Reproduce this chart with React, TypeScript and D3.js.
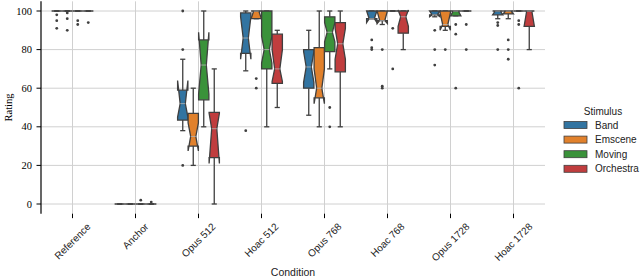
import { useEffect, useRef } from "react";
import * as d3 from "d3";

const categories = [
  "Reference",
  "Anchor",
  "Opus 512",
  "Hoac 512",
  "Opus 768",
  "Hoac 768",
  "Opus 1728",
  "Hoac 1728",
];
const stimuli = ["Band", "Emscene", "Moving", "Orchestra"];
const colors = ["#3274a1", "#e1812c", "#3a923a", "#c03d3e"];
const yTicks = [0, 20, 40, 60, 80, 100];

// per condition, per stimulus (Band, Emscene, Moving, Orchestra)
const whiskerLow = [
  [100, 100, 100, 100],
  [0, 0, 0, 0],
  [38, 20, 40, 0],
  [69, 96, 40, 50],
  [46, 40, 70, 40],
  [96, 93, 100, 80],
  [97, 90, 97.5, 100],
  [96, 96, 100, 80],
];
const q1 = [
  [100, 100, 100, 100],
  [0, 0, 0, 0],
  [43.5, 30, 54, 24],
  [78, 96, 70, 62.5],
  [60, 55, 79, 68.5],
  [96, 95, 100, 88.5],
  [98, 92, 97.5, 100],
  [98, 98.5, 100, 92],
];
const median = [
  [100, 100, 100, 100],
  [0, 0, 0, 0],
  [52, 35, 72, 39],
  [86, 100, 80, 70],
  [71, 60, 89, 83],
  [96, 95, 100, 97],
  [98, 93, 100, 100],
  [100, 100, 100, 100],
];
const q3 = [
  [100, 100, 100, 100],
  [0, 0, 0, 0],
  [59, 47, 85, 47.5],
  [99, 100, 100, 88],
  [80, 81, 97, 94],
  [100, 100, 100, 100],
  [100, 100, 100, 100],
  [100, 100, 100, 100],
];
const whiskerHigh = [
  [100, 100, 100, 100],
  [0, 0, 0, 0],
  [75, 60, 100, 70],
  [100, 100, 100, 90],
  [90, 100, 100, 100],
  [100, 100, 100, 100],
  [100, 100, 100, 100],
  [100, 100, 100, 100],
];
const notchLow = [
  [100, 100, 100, 100],
  [0, 0, 0, 0],
  [45, 27.5, 57, 21],
  [75, 96, 73, 63.5],
  [63, 52, 84, 75],
  [94, 93.5, 100, 92],
  [97, 90, 97.5, 100],
  [98, 98.5, 100, 92],
];
const notchHigh = [
  [100, 100, 100, 100],
  [0, 0, 0, 0],
  [64, 42, 89, 47],
  [97, 100, 87, 80],
  [79, 70, 94, 91],
  [100, 100, 100, 100.5],
  [100, 99, 100, 100],
  [100, 100, 100, 100],
];
const outliers = [
  [[98, 95, 91], [99, 96, 90], [95, 93], [94]],
  [[], [], [2], [1]],
  [[100, 80, 20], [], [], []],
  [[38], [65, 60], [], []],
  [[], [], [50, 40], []],
  [[85, 81, 80], [80, 61, 60], [91, 70], []],
  [[90, 80, 72], [80], [93, 88, 60], [93, 80]],
  [[94, 92.5, 80], [85, 80, 75], [95, 93, 60], []],
];

const W = 640;
const H = 279;
const line = "#3f3f3f";
const sans = "'Liberation Sans', Arial, sans-serif";
const serif = "'Liberation Serif', 'Times New Roman', serif";

export default function App() {
  const svgRef = useRef<SVGSVGElement>(null);

  useEffect(() => {
    document.body.style.margin = "0";
    if (!svgRef.current) return;
    const svg = d3.select(svgRef.current);
    svg.selectAll("*").remove();

    const x = d3.scaleBand<string>().domain(categories).range([41, 545]);
    const hueX = d3.scaleBand<string>().domain(stimuli).range([-21, 21]);
    const y = d3.scaleLinear().domain([0, 100]).range([204, 11]);
    const top = y(105);
    const bottom = y(-5);
    const cx = (c: string) => (x(c) ?? 0) + x.bandwidth() / 2;
    const boxW = hueX.bandwidth() * 0.98;

    // grid
    const grid = svg.append("g").attr("stroke", "#d0d0d0").attr("stroke-width", 1);
    grid
      .selectAll("line.h")
      .data(yTicks)
      .enter()
      .append("line")
      .attr("x1", 41)
      .attr("x2", 545)
      .attr("y1", (d) => y(d))
      .attr("y2", (d) => y(d));
    grid
      .selectAll("line.v")
      .data(categories)
      .enter()
      .append("line")
      .attr("x1", (d) => cx(d))
      .attr("x2", (d) => cx(d))
      .attr("y1", top)
      .attr("y2", bottom);

    // boxes
    const boxes = svg.append("g");
    categories.forEach((cat, i) => {
      stimuli.forEach((stim, j) => {
        const c = cx(cat) + (hueX(stim) ?? 0) + hueX.bandwidth() / 2;
        const L = c - boxW / 2;
        const R = c + boxW / 2;
        const cl = c - boxW / 4;
        const cr = c + boxW / 4;
        const g = boxes.append("g");

        // whiskers
        const wl = [
          [q1[i][j], whiskerLow[i][j]],
          [q3[i][j], whiskerHigh[i][j]],
        ];
        wl.forEach(([a, b]) => {
          g.append("line")
            .attr("x1", c)
            .attr("x2", c)
            .attr("y1", y(a))
            .attr("y2", y(b))
            .attr("stroke", line)
            .attr("stroke-width", 1.3);
          g.append("line")
            .attr("x1", cl)
            .attr("x2", cr)
            .attr("y1", y(b))
            .attr("y2", y(b))
            .attr("stroke", line)
            .attr("stroke-width", 1.3);
        });

        const xs = [L, R, R, cr, R, R, L, L, cl, L, L];
        const ys = [
          q1[i][j], q1[i][j], notchLow[i][j], median[i][j], notchHigh[i][j],
          q3[i][j], q3[i][j], notchHigh[i][j], median[i][j], notchLow[i][j], q1[i][j],
        ];
        const pts = xs.map((px, k) => [px, y(ys[k])] as [number, number]);
        g.append("path")
          .attr("d", d3.line()(pts) + "Z")
          .attr("fill", colors[j])
          .attr("stroke", line)
          .attr("stroke-width", 1.3)
          .attr("stroke-linejoin", "miter");

        if (q3[i][j] > q1[i][j]) {
          g.append("line")
            .attr("x1", cl)
            .attr("x2", cr)
            .attr("y1", y(median[i][j]))
            .attr("y2", y(median[i][j]))
            .attr("stroke", "#b5b5b5")
            .attr("stroke-width", 0.8);
        }

        g.selectAll("circle")
          .data(outliers[i][j])
          .enter()
          .append("circle")
          .attr("cx", c)
          .attr("cy", (d) => y(d))
          .attr("r", 1.4)
          .attr("fill", line);
      });
    });

    // left spine + y ticks
    svg
      .append("line")
      .attr("x1", 41)
      .attr("x2", 41)
      .attr("y1", top)
      .attr("y2", bottom)
      .attr("stroke", "#000")
      .attr("stroke-width", 1.2);
    const yAxis = svg.append("g");
    yTicks.forEach((t) => {
      yAxis
        .append("line")
        .attr("x1", 36.5)
        .attr("x2", 41)
        .attr("y1", y(t))
        .attr("y2", y(t))
        .attr("stroke", "#000");
      yAxis
        .append("text")
        .attr("x", 32)
        .attr("y", y(t))
        .attr("dy", "0.35em")
        .attr("text-anchor", "end")
        .attr("font-family", serif)
        .attr("font-size", 10.5)
        .attr("fill", "#000")
        .text(t);
    });
    svg
      .append("text")
      .attr("transform", `translate(12,${(top + bottom) / 2}) rotate(-90)`)
      .attr("text-anchor", "middle")
      .attr("font-family", serif)
      .attr("font-size", 10.5)
      .text("Rating");

    // x ticks + rotated labels
    const xAxis = svg.append("g");
    categories.forEach((cat) => {
      const px = cx(cat);
      xAxis
        .append("line")
        .attr("x1", px)
        .attr("x2", px)
        .attr("y1", bottom)
        .attr("y2", bottom + 4.5)
        .attr("stroke", "#000");
      const t = xAxis
        .append("text")
        .attr("font-family", sans)
        .attr("font-size", 10)
        .attr("fill", "#222")
        .attr("text-anchor", "middle")
        .attr("dominant-baseline", "central")
        .text(cat);
      const len = (t.node() as SVGTextElement).getComputedTextLength();
      const half = ((len + 9) * Math.SQRT1_2) / 2;
      t.attr("transform", `translate(${px},${bottom + 8 + half}) rotate(-45)`);
    });
    svg
      .append("text")
      .attr("x", (41 + 545) / 2)
      .attr("y", 276)
      .attr("text-anchor", "middle")
      .attr("font-family", sans)
      .attr("font-size", 10.5)
      .attr("fill", "#222")
      .text("Condition");

    // legend
    const leg = svg.append("g");
    leg
      .append("text")
      .attr("x", 603)
      .attr("y", 111)
      .attr("dy", "0.35em")
      .attr("text-anchor", "middle")
      .attr("font-family", sans)
      .attr("font-size", 10)
      .attr("fill", "#222")
      .text("Stimulus");
    stimuli.forEach((s, j) => {
      const ry = 125 + j * 14.6;
      leg
        .append("rect")
        .attr("x", 564)
        .attr("y", ry - 3.5)
        .attr("width", 23)
        .attr("height", 7)
        .attr("fill", colors[j])
        .attr("stroke", line)
        .attr("stroke-width", 0.8);
      leg
        .append("text")
        .attr("x", 595)
        .attr("y", ry)
        .attr("dy", "0.35em")
        .attr("font-family", sans)
        .attr("font-size", 10)
        .attr("fill", "#222")
        .text(s);
    });
  }, []);

  return (
    <svg
      ref={svgRef}
      width={W}
      height={H}
      style={{ display: "block", background: "#fff" }}
      role="img"
      aria-label="Notched box plots of rating by condition and stimulus"
    />
  );
}
